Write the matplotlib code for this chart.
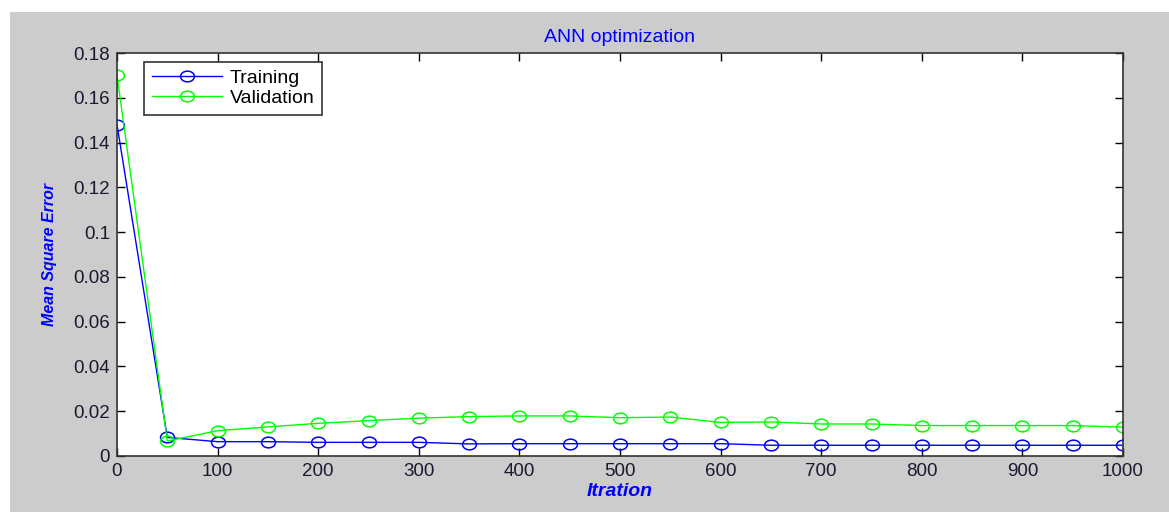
#!/usr/bin/env python3
import matplotlib
matplotlib.use("Agg")
import matplotlib.pyplot as plt
from matplotlib.patches import Rectangle
from matplotlib.path import Path
from matplotlib.transforms import Affine2D
from matplotlib.ticker import FuncFormatter

iterations = [0, 50, 100, 150, 200, 250, 300, 350, 400, 450, 500,
              550, 600, 650, 700, 750, 800, 850, 900, 950, 1000]
training = [0.148, 0.0083, 0.0064, 0.0064, 0.0061, 0.0061, 0.0061, 0.0054,
            0.0055, 0.0055, 0.0055, 0.0055, 0.0055, 0.0048, 0.0048, 0.0048,
            0.0048, 0.0048, 0.0048, 0.0048, 0.0048]
validation = [0.170, 0.0067, 0.0113, 0.0130, 0.0146, 0.0158, 0.0169, 0.0176,
              0.0179, 0.0179, 0.0171, 0.0174, 0.0150, 0.0152, 0.0143, 0.0143,
              0.0136, 0.0136, 0.0136, 0.0136, 0.0129]
yticks = [0, 0.02, 0.04, 0.06, 0.08, 0.1, 0.12, 0.14, 0.16, 0.18]
xticks = list(range(0, 1001, 100))


def plot_mse():
    plt.rcParams['font.family'] = ['Liberation Sans', 'DejaVu Sans']
    fig = plt.figure(figsize=(11.69, 5.12), dpi=100, facecolor='white')
    # grey MATLAB-style figure background, offset from the top-left corner
    bg = Rectangle((10 / 1169, 0), 1 - 10 / 1169, 1 - 12 / 512,
                   transform=fig.transFigure, facecolor='#cccccc',
                   edgecolor='none', zorder=-10)
    fig.add_artist(bg)
    # slightly flattened circle, like the stretched markers in the original
    oval = Path.unit_circle().transformed(Affine2D().scale(1.3, 1.0))
    ax = fig.add_axes([117 / 1169, 1 - 456 / 512, 1006 / 1169, 403 / 512])
    ax.plot(iterations, training, color='#0000ff', lw=1, marker=oval, ms=10,
            mfc='none', mec='#0000ff', mew=1.1, label='Training')
    ax.plot(iterations, validation, color='#00ff00', lw=1, marker=oval, ms=10,
            mfc='none', mec='#00ff00', mew=1.1, label='Validation')
    ax.set_xlim(0, 1000)
    ax.set_ylim(0, 0.18)
    ax.set_xticks(xticks)
    ax.set_yticks(yticks)
    ax.yaxis.set_major_formatter(FuncFormatter(lambda v, p: '%g' % round(v, 2)))
    ax.tick_params(direction='in', length=6, width=1, top=True, right=True,
                   labelsize=13.5, labelcolor='#1a1a2e', pad=5)
    for s in ax.spines.values():
        s.set_linewidth(1.2)
        s.set_color('#333333')
    ax.set_title('ANN optimization', color='#0000ff', fontsize=14, pad=8)
    ax.set_xlabel('Itration', color='#0000ff', fontsize=14, style='italic',
                  fontweight='bold', labelpad=2)
    ax.set_ylabel('Mean Square Error', color='#0000ff', fontsize=11.5,
                  style='italic', fontweight='bold', labelpad=12)
    leg = ax.legend(loc='upper left', bbox_to_anchor=(0.027, 0.978),
                    fontsize=14, handlelength=3.6, handletextpad=0.4,
                    fancybox=False, framealpha=1, borderaxespad=0,
                    borderpad=0.4, labelspacing=0.1)
    leg.get_frame().set_edgecolor('#333333')
    leg.get_frame().set_linewidth(1.2)
    fig.savefig("out.png", dpi=100, facecolor=fig.get_facecolor())
    return


if __name__ == '__main__':
    plot_mse()
    print("DONE")
